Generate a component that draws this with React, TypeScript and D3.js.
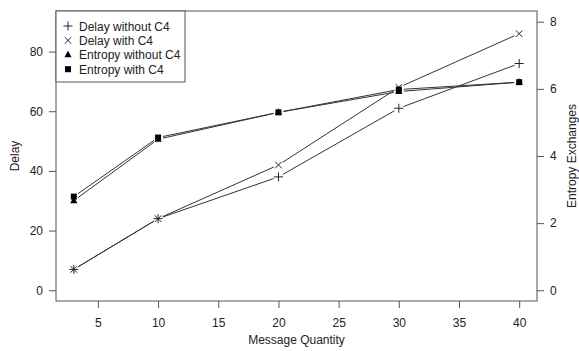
import { useEffect, useRef } from 'react';
import * as d3 from 'd3';

// Message quantity (x) values
const quantities = [3, 10, 20, 30, 40];

// Left axis series (Delay)
const delayWithout = [7, 24, 38, 61, 76];
const delayWith = [7, 24, 42, 68, 86];

// Right axis series (Entropy Exchanges)
const entropyWithout = [2.67, 4.5, 5.3, 5.92, 6.2];
const entropyWith = [2.79, 4.55, 5.3, 5.98, 6.2];

const xTicks = [5, 10, 15, 20, 25, 30, 35, 40];
const delayTicks = [0, 20, 40, 60, 80];
const entropyTicks = [0, 2, 4, 6, 8];

const legendLabels = ['Delay without C4', 'Delay with C4', 'Entropy without C4', 'Entropy with C4'];

type Shape = 'plus' | 'cross' | 'triangle' | 'square';

export default function App() {
  const svgRef = useRef<SVGSVGElement>(null);

  useEffect(() => {
    if (!svgRef.current) return;
    const svg = d3.select(svgRef.current);
    svg.selectAll('*').remove();

    const W = 579;
    const H = 351;
    const box = { left: 56, right: 537, top: 11, bottom: 301 };
    const font = 'Liberation Sans, Arial, Helvetica, sans-serif';
    const ink = '#222';
    const axisCol = '#555';

    svg.attr('width', W).attr('height', H);

    // R-style 4% expansion
    const xScale = d3.scaleLinear().domain([1.52, 41.48]).range([box.left, box.right]);
    const yDelay = d3.scaleLinear().domain([-3.6, 93.6]).range([box.bottom, box.top]);
    const yEntropy = d3.scaleLinear().domain([-0.32, 8.32]).range([box.bottom, box.top]);

    // Axes
    const bottomAxis = svg.append('g')
      .attr('transform', `translate(0,${box.bottom})`)
      .call(d3.axisBottom(xScale).tickValues(xTicks).tickSize(7).tickSizeOuter(0).tickPadding(10));
    const leftAxis = svg.append('g')
      .attr('transform', `translate(${box.left},0)`)
      .call(d3.axisLeft(yDelay).tickValues(delayTicks).tickSize(7).tickSizeOuter(0).tickPadding(6));
    const rightAxis = svg.append('g')
      .attr('transform', `translate(${box.right},0)`)
      .call(d3.axisRight(yEntropy).tickValues(entropyTicks).tickSize(7).tickSizeOuter(0).tickPadding(6));

    [bottomAxis, leftAxis, rightAxis].forEach(a => {
      a.select('.domain').remove();
      a.selectAll('line').attr('stroke', axisCol);
      a.selectAll('text')
        .attr('fill', ink)
        .attr('font-family', font)
        .attr('font-size', '12px');
    });

    // Plot box
    svg.append('rect')
      .attr('x', box.left)
      .attr('y', box.top)
      .attr('width', box.right - box.left)
      .attr('height', box.bottom - box.top)
      .attr('fill', 'none')
      .attr('stroke', axisCol)
      .attr('stroke-width', 1);

    // Axis titles
    svg.append('text')
      .attr('x', (box.left + box.right) / 2)
      .attr('y', 344)
      .attr('text-anchor', 'middle')
      .attr('fill', ink)
      .attr('font-family', font)
      .attr('font-size', '12px')
      .text('Message Quantity');

    svg.append('text')
      .attr('transform', `translate(19,${(box.top + box.bottom) / 2}) rotate(-90)`)
      .attr('text-anchor', 'middle')
      .attr('fill', ink)
      .attr('font-family', font)
      .attr('font-size', '12px')
      .text('Delay');

    svg.append('text')
      .attr('transform', `translate(576,${(box.top + box.bottom) / 2}) rotate(-90)`)
      .attr('text-anchor', 'middle')
      .attr('fill', ink)
      .attr('font-family', font)
      .attr('font-size', '12px')
      .text('Entropy Exchanges');

    const drawSymbol = (g: d3.Selection<SVGGElement, unknown, null, undefined>, shape: Shape, x: number, y: number) => {
      const r = 4;
      if (shape === 'plus') {
        g.append('path')
          .attr('d', `M${x - r - 0.5},${y}H${x + r + 0.5}M${x},${y - r - 0.5}V${y + r + 0.5}`)
          .attr('stroke', ink).attr('stroke-width', 1).attr('fill', 'none');
      } else if (shape === 'cross') {
        const c = 3.3;
        g.append('path')
          .attr('d', `M${x - c},${y - c}L${x + c},${y + c}M${x - c},${y + c}L${x + c},${y - c}`)
          .attr('stroke', ink).attr('stroke-width', 1).attr('fill', 'none');
      } else if (shape === 'triangle') {
        g.append('path')
          .attr('d', `M${x},${y - 4}L${x + 3.6},${y + 2.5}L${x - 3.6},${y + 2.5}Z`)
          .attr('fill', '#000');
      } else {
        g.append('rect')
          .attr('x', x - 3).attr('y', y - 3).attr('width', 6).attr('height', 6)
          .attr('fill', '#000');
      }
    };

    const series: { values: number[]; scale: d3.ScaleLinear<number, number>; shape: Shape }[] = [
      { values: delayWithout, scale: yDelay, shape: 'plus' },
      { values: delayWith, scale: yDelay, shape: 'cross' },
      { values: entropyWithout, scale: yEntropy, shape: 'triangle' },
      { values: entropyWith, scale: yEntropy, shape: 'square' },
    ];

    const gap = 5;
    series.forEach(s => {
      const g = svg.append('g');
      const pts = quantities.map((q, i) => [xScale(q), s.scale(s.values[i])] as [number, number]);
      // type = "b": line segments with gaps around points
      for (let i = 0; i < pts.length - 1; i++) {
        const [x1, y1] = pts[i];
        const [x2, y2] = pts[i + 1];
        const len = Math.hypot(x2 - x1, y2 - y1);
        if (len <= 2 * gap) continue;
        const ux = (x2 - x1) / len;
        const uy = (y2 - y1) / len;
        g.append('line')
          .attr('x1', x1 + ux * gap).attr('y1', y1 + uy * gap)
          .attr('x2', x2 - ux * gap).attr('y2', y2 - uy * gap)
          .attr('stroke', '#333')
          .attr('stroke-width', 1);
      }
      pts.forEach(([x, y]) => drawSymbol(g, s.shape, x, y));
    });

    // Legend
    const legend = svg.append('g');
    legend.append('rect')
      .attr('x', box.left)
      .attr('y', box.top)
      .attr('width', 129)
      .attr('height', 71)
      .attr('fill', '#fff')
      .attr('stroke', axisCol);

    const shapes: Shape[] = ['plus', 'cross', 'triangle', 'square'];
    legendLabels.forEach((label, i) => {
      const y = 26 + i * 14.4;
      drawSymbol(legend, shapes[i], 68, y);
      legend.append('text')
        .attr('x', 79)
        .attr('y', y + 4.5)
        .attr('fill', ink)
        .attr('font-family', font)
        .attr('font-size', '12px')
        .text(label);
    });
  }, []);

  return (
    <div style={{ position: 'absolute', left: 0, top: 0, background: '#fff' }}>
      <svg ref={svgRef} style={{ display: 'block' }} />
    </div>
  );
}
